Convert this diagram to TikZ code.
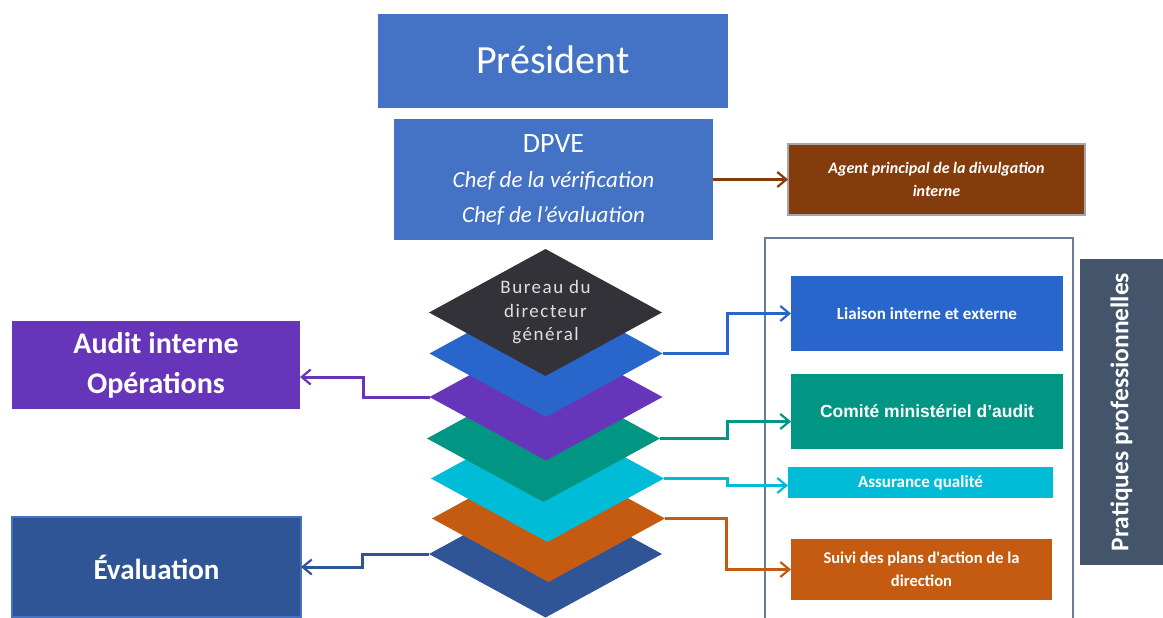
\documentclass[tikz,border=0pt]{standalone}
\usepackage{fontspec}
\setmainfont{Carlito}
\newfontfamily\arialfont{Liberation Sans}
\newfontfamily\spacedfont[LetterSpace=8]{Carlito}
\usetikzlibrary{shapes.geometric,arrows.meta}
\definecolor{presblue}{RGB}{68,114,196}
\definecolor{agentbrown}{RGB}{132,60,12}
\definecolor{liaisblue}{RGB}{41,102,204}
\definecolor{comteal}{RGB}{0,150,131}
\definecolor{qualcyan}{RGB}{0,188,214}
\definecolor{suiviorange}{RGB}{197,90,17}
\definecolor{auditpurple}{RGB}{103,53,185}
\definecolor{evalnavy}{RGB}{47,85,151}
\definecolor{bureaudark}{RGB}{51,50,56}
\definecolor{slate}{RGB}{68,84,106}
\definecolor{framecol}{RGB}{108,122,153}
\tikzset{
  box/.style={rectangle,inner sep=0,outer sep=0,text=white,align=center},
  layer/.style={diamond,fill=#1,aspect=1.83,minimum width=233pt,minimum height=127pt,inner sep=0,outer sep=0},
  link/.style={draw=#1,line width=3pt,-{Straight Barb[length=9pt,width=15pt,line width=2.2pt]}},
}
\begin{document}
\begin{tikzpicture}[x=1pt,y=-1pt]
\useasboundingbox (0,0) rectangle (1163,618);
\node[box,fill=presblue,minimum width=350pt,minimum height=94pt,font=\fontsize{40}{48}\selectfont] (pres) at (553,61) {\raisebox{2pt}{Président}};
\node[box,fill=presblue,minimum width=319pt,minimum height=121pt,font=\fontsize{23}{35}\selectfont] (dpve) at (553.5,179.5)
  {{\fontsize{28}{35}\selectfont DPVE}\\ \textit{Chef de la vérification}\\ \textit{Chef de l’évaluation}};
\node[box,fill=agentbrown,draw=gray!70,line width=2pt,minimum width=297pt,minimum height=71pt,font=\fontsize{16}{23}\selectfont\bfseries\itshape] (agent) at (936.5,179.5)
  {Agent principal de la divulgation\\ interne};
\draw[link=agentbrown] (dpve.east) -- (agent.west);
\draw[draw=framecol,line width=1.5pt] (765,630) -- (765,238) -- (1073,238) -- (1073,630);
\node[box,fill=liaisblue,minimum width=272pt,minimum height=75pt,font=\fontsize{17}{20}\selectfont\bfseries] (liaison) at (927,313.5) {Liaison interne et externe};
\node[box,fill=comteal,minimum width=272pt,minimum height=75pt,font=\fontsize{17.5}{20}\selectfont\arialfont\bfseries] (comite) at (927,411.5) {Comité ministériel d’audit};
\node[box,fill=qualcyan,minimum width=265pt,minimum height=31pt,font=\fontsize{17}{20}\selectfont\bfseries] (qualite) at (920.5,482.5) {Assurance qualité};
\node[box,fill=suiviorange,minimum width=261pt,minimum height=61pt,font=\fontsize{16.5}{23}\selectfont\bfseries] (suivi) at (921.5,569.5) {Suivi des plans d\textquotesingle action de la\\ direction};
\node[box,fill=slate,rotate=90,minimum width=306pt,minimum height=83pt,font=\fontsize{25.5}{30}\selectfont\bfseries] (pratiques) at (1121.5,412) {Pratiques professionnelles};
\node[box,fill=auditpurple,minimum width=288pt,minimum height=88pt,font=\fontsize{30}{40}\selectfont\bfseries] (audit) at (156,365) {Audit interne\\ Opérations};
\node[box,fill=evalnavy,draw=presblue,line width=1.5pt,minimum width=289pt,minimum height=100pt,font=\fontsize{29}{34}\selectfont\bfseries] (eval) at (156.5,567) {Évaluation};
\foreach \x/\y/\c/\n in {545.5/554/evalnavy/eval, 548.5/518.5/suiviorange/suivi, 547.5/478.5/qualcyan/qualite,
  543.5/438.5/comteal/comite, 546/397/auditpurple/audit, 546/353.5/liaisblue/liaison}
  \node[layer=\c] (lyr-\n) at (\x,\y) {};
\node[layer=bureaudark,text=white!88!black,align=center,font=\fontsize{19}{23.5}\selectfont\spacedfont] (lyr-bureau) at (545.5,312.5)
  {Bureau du\\ directeur\\ général};
\draw[link=liaisblue] (lyr-liaison.east) -- ++(65,0) |- (liaison.west);
\draw[link=auditpurple] (lyr-audit.west) -- ++(-66,0) |- ([yshift=-12pt]audit.east);
\draw[link=comteal] (lyr-comite.east) -- ++(67,0) |- ([yshift=-10pt]comite.west);
\draw[link=qualcyan] (lyr-qualite.east) -- ++(63,0) |- ([yshift=-3pt]qualite.west);
\draw[link=suiviorange] (lyr-suivi.east) -- ++(61,0) |- (suivi.west);
\draw[link=evalnavy] (lyr-eval.west) -- ++(-67,0) |- (eval.east);
\end{tikzpicture}
\end{document}
